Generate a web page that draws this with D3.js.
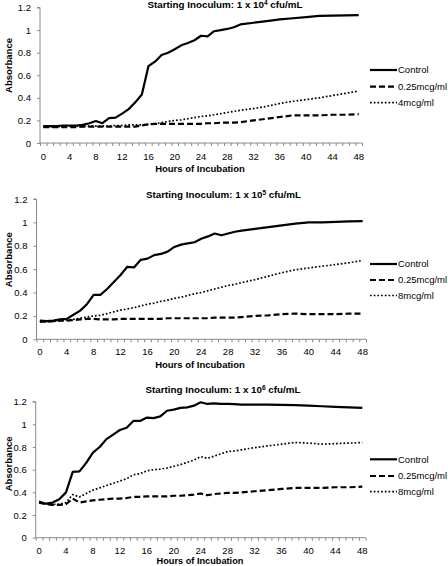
<!DOCTYPE html>
<html><head><meta charset="utf-8">
<script src="https://cdn.jsdelivr.net/npm/d3@7"></script>
<style>
html,body{margin:0;padding:0;background:#fff;}
svg{display:block;font-family:"Liberation Sans",Arial,sans-serif;}
</style></head>
<body><svg id="c" width="448" height="566"></svg>
<script>
// ---- DATA ----
const hours = [0,1,2,3,4,5,6,7,8,9,10,11,12,13,14,15,16,17,18,19,20,21,22,23,24,25,26,27,28,29,30,32,34,36,38,40,42,44,46,48];
const xTickLabels = [0,4,8,12,16,20,24,28,32,36,40,44,48];
const yTickLabels = [0,0.2,0.4,0.6,0.8,1,1.2];
const titleExponents = ["4","5","6"];
const seriesNames1 = ["Control","0.25mcg/ml","4mcg/ml"];
const seriesNames2 = ["Control","0.25mcg/ml","8mcg/ml"];
const seriesNames3 = ["Control","0.25mcg/ml","8mcg/ml"];

const control1 = [0.15,0.15,0.15,0.155,0.155,0.155,0.16,0.175,0.195,0.175,0.22,0.225,0.26,0.30,0.36,0.43,0.68,0.72,0.78,0.80,0.83,0.865,0.885,0.91,0.95,0.945,0.99,1.0,1.01,1.025,1.05,1.065,1.08,1.095,1.105,1.115,1.125,1.128,1.13,1.132];
const low1 = [0.14,0.14,0.14,0.14,0.14,0.14,0.145,0.145,0.145,0.145,0.145,0.145,0.145,0.145,0.145,0.155,0.165,0.17,0.17,0.17,0.17,0.17,0.17,0.17,0.17,0.175,0.175,0.18,0.18,0.18,0.185,0.20,0.215,0.23,0.245,0.245,0.245,0.25,0.25,0.255];
const high1 = [0.145,0.145,0.145,0.145,0.15,0.15,0.15,0.15,0.15,0.15,0.15,0.155,0.155,0.16,0.16,0.16,0.165,0.17,0.18,0.19,0.2,0.205,0.215,0.225,0.235,0.24,0.25,0.26,0.27,0.28,0.29,0.305,0.325,0.35,0.37,0.385,0.40,0.42,0.44,0.46];

const control2 = [0.16,0.155,0.16,0.17,0.175,0.21,0.245,0.30,0.38,0.38,0.43,0.49,0.55,0.62,0.615,0.68,0.69,0.72,0.73,0.75,0.79,0.81,0.82,0.83,0.86,0.88,0.905,0.89,0.905,0.92,0.93,0.945,0.96,0.975,0.99,1.0,1.0,1.005,1.008,1.01];
const low2 = [0.15,0.15,0.155,0.16,0.16,0.165,0.17,0.175,0.175,0.17,0.17,0.17,0.175,0.175,0.175,0.175,0.175,0.175,0.175,0.18,0.18,0.18,0.18,0.18,0.18,0.18,0.185,0.185,0.185,0.185,0.19,0.20,0.205,0.215,0.22,0.215,0.215,0.215,0.22,0.22];
const high2 = [0.15,0.15,0.155,0.16,0.165,0.17,0.18,0.19,0.20,0.205,0.22,0.235,0.25,0.26,0.27,0.285,0.30,0.31,0.325,0.335,0.35,0.36,0.375,0.39,0.40,0.415,0.43,0.445,0.46,0.47,0.485,0.51,0.54,0.57,0.595,0.61,0.625,0.64,0.655,0.675];

const control3 = [0.32,0.30,0.31,0.34,0.40,0.58,0.585,0.66,0.75,0.80,0.87,0.91,0.95,0.97,1.03,1.03,1.06,1.055,1.07,1.12,1.13,1.145,1.15,1.165,1.195,1.18,1.185,1.18,1.18,1.178,1.175,1.175,1.175,1.172,1.17,1.165,1.16,1.155,1.15,1.145];
const low3 = [0.31,0.295,0.29,0.29,0.295,0.345,0.31,0.32,0.33,0.335,0.34,0.345,0.345,0.35,0.36,0.36,0.365,0.365,0.365,0.365,0.37,0.37,0.375,0.38,0.39,0.375,0.385,0.39,0.395,0.395,0.40,0.41,0.42,0.43,0.44,0.44,0.44,0.445,0.445,0.45];
const high3 = [0.31,0.30,0.295,0.295,0.31,0.38,0.36,0.39,0.42,0.44,0.46,0.48,0.50,0.52,0.555,0.565,0.59,0.60,0.605,0.615,0.63,0.645,0.665,0.685,0.715,0.70,0.72,0.74,0.76,0.765,0.775,0.795,0.81,0.825,0.84,0.835,0.825,0.83,0.835,0.84];

// ---- LAYOUT ----
const charts = [
  {exp:titleExponents[0], names:seriesNames1, series:[control1,low1,high1],
   xL:40, xR:362, yTop:7.5, yBot:143, titleY:5, tickY:157, xTitleY:168.5, xTitleFs:9.5, yTitleX:6, yTitleY:65.5, legY:[70,86.7,102.7], titleX:225},
  {exp:titleExponents[1], names:seriesNames2, series:[control2,low2,high2],
   xL:36.5, xR:366, yTop:199, yBot:339.3, titleY:194.3, tickY:351.7, xTitleY:364.3, xTitleFs:9.5, yTitleX:6, yTitleY:259.7, legY:[264,280,295.5], titleX:223.5},
  {exp:titleExponents[2], names:seriesNames3, series:[control3,low3,high3],
   xL:35.7, xR:365.7, yTop:401.7, yBot:537.7, titleY:390, tickY:550.5, xTitleY:560.8, xTitleFs:9.2, yTitleX:6, yTitleY:463.8, legY:[459.3,476,491.7], titleX:223}
];
const styles = [
  {w:2.2, dash:null, cap:"butt"},
  {w:2.2, dash:"6,3", cap:"butt"},
  {w:1.7, dash:"1.7,2", cap:"butt"}
];
const axisColor = "#8a8a8a";
const svg = d3.select("#c");

charts.forEach(c => {
  const g = svg.append("g");
  const nCat = 49;
  const x = d3.scaleLinear().domain([-0.5, 48.5]).range([c.xL, c.xR]);
  const y = d3.scaleLinear().domain([0, 1.2]).range([c.yBot, c.yTop]);

  // y axis
  const yAx = g.append("g").attr("transform", `translate(${c.xL},0)`)
    .call(d3.axisLeft(y).tickValues(yTickLabels).tickSize(3).tickPadding(6).tickFormat(d3.format("")));
  yAx.select(".domain").attr("stroke", axisColor).attr("d", `M-3,${c.yTop}H0V${c.yBot}`);
  yAx.selectAll(".tick line").attr("stroke", axisColor);
  yAx.selectAll(".tick text").attr("font-size", "9.5px").attr("fill", "#000")
    .attr("font-family", "Liberation Sans, Arial, sans-serif");

  // x axis: category boundaries as minor ticks
  const bounds = d3.range(nCat + 1).map(i => i - 0.5);
  const xAx = g.append("g").attr("transform", `translate(0,${c.yBot})`)
    .call(d3.axisBottom(x).tickValues(bounds).tickSize(3).tickFormat(""));
  xAx.select(".domain").attr("stroke", axisColor).attr("d", `M${c.xL},0H${c.xR}`);
  xAx.selectAll(".tick line").attr("stroke", axisColor);
  g.selectAll(".xlab").data(xTickLabels).enter().append("text")
    .attr("x", d => x(d)).attr("y", c.tickY).attr("dy", "0.35em")
    .attr("text-anchor", "middle").attr("font-size", "9.5px").text(d => d);

  // titles
  const t = g.append("text").attr("x", c.titleX).attr("y", c.titleY).attr("dy", "0.35em")
    .attr("text-anchor", "middle").attr("font-size", "9.8px").attr("font-weight", "bold");
  t.append("tspan").text("Starting Inoculum: 1 x 10");
  t.append("tspan").attr("font-size", "6.5px").attr("dy", "-3.2").text(c.exp);
  t.append("tspan").attr("dy", "3.2").text(" cfu/mL");

  g.append("text").attr("x", 200).attr("y", c.xTitleY).attr("dy", "0.35em")
    .attr("text-anchor", "middle").attr("font-size", c.xTitleFs + "px").attr("font-weight", "bold")
    .text("Hours of Incubation");
  g.append("text").attr("transform", `translate(${c.yTitleX + 3},${c.yTitleY}) rotate(-90)`)
    .attr("text-anchor", "middle").attr("dy", "0.35em").attr("font-size", "9.5px").attr("font-weight", "bold")
    .text("Absorbance");

  // lines
  const line = d3.line().x((d, i) => x(hours[i])).y(d => y(d));
  c.series.forEach((s, k) => {
    g.append("path").datum(s).attr("d", line).attr("fill", "none").attr("stroke", "#000")
      .attr("stroke-width", styles[k].w).attr("stroke-dasharray", styles[k].dash)
      .attr("stroke-linejoin", "round").attr("stroke-linecap", styles[k].cap);
  });

  // legend
  c.names.forEach((n, k) => {
    g.append("line").attr("x1", 370).attr("x2", 397).attr("y1", c.legY[k]).attr("y2", c.legY[k])
      .attr("stroke", "#000").attr("stroke-width", styles[k].w).attr("stroke-dasharray", styles[k].dash);
    g.append("text").attr("x", 398).attr("y", c.legY[k]).attr("dy", "0.35em")
      .attr("font-size", "9.5px").text(n);
  });
});
</script></body></html>
